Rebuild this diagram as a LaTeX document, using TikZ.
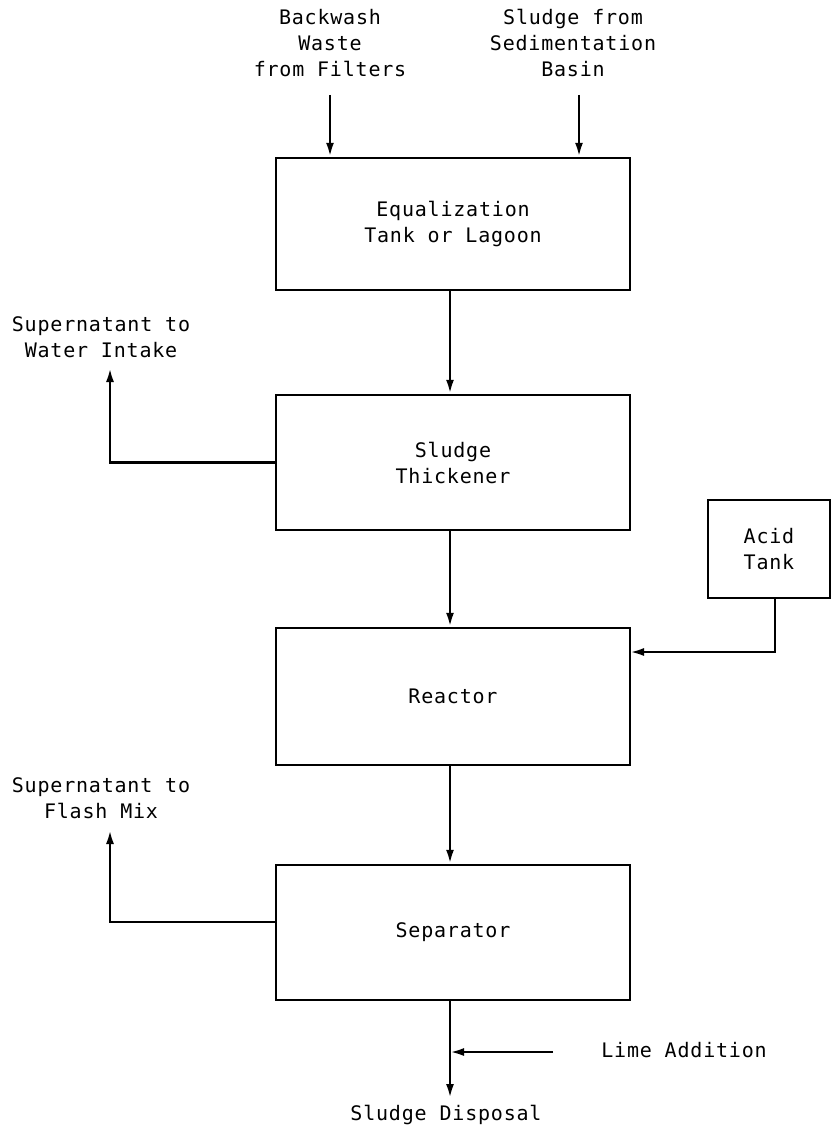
\documentclass[tikz,border=0pt]{standalone}
\usepackage{fontspec}
\usetikzlibrary{arrows.meta}
\newfontfamily\tw[LetterSpace=4]{DejaVu Sans Mono}
\begin{document}
\begin{tikzpicture}[x=1pt,y=-1pt,
  box/.style={draw,line width=2.5pt,minimum width=354pt,inner sep=0pt},
  lbl/.style={align=center,inner sep=0pt,font=\tw\fontsize{20}{26}\selectfont},
  flow/.style={line width=2.5pt,-{Latex[length=14pt,width=8pt]}}]
\useasboundingbox (0,0) rectangle (831,1129);
% boxes
\node[box,minimum height=132pt,lbl] (eq) at (453,224) {Equalization\\Tank or Lagoon};
\node[box,minimum height=135pt,lbl] (thk) at (453,462.5) {Sludge\\Thickener};
\node[box,minimum height=137pt,lbl] (reac) at (453,696.5) {Reactor};
\node[box,minimum height=135pt,lbl] (sep) at (453,932.5) {Separator};
\node[box,minimum width=122pt,minimum height=98pt,lbl] (acid) at (769,549) {Acid\\Tank};
% labels
\node[lbl] (bw) at (330,43) {Backwash\\Waste\\from Filters};
\node[lbl] (sd) at (573,43) {Sludge from\\Sedimentation\\Basin};
\node[lbl] (sup1) at (101,337) {Supernatant to\\Water Intake};
\node[lbl] (sup2) at (101,798) {Supernatant to\\Flash Mix};
\node[lbl] (lime) at (684,1050) {Lime Addition};
\node[lbl] (disp) at (446,1115) {Sludge Disposal};
% coordinates
\coordinate (main) at (450,0);
\coordinate (bwa) at (330,95);
\coordinate (sda) at (579,95);
\coordinate (t1) at (110,368);
\coordinate (c2) at (110,922);
\coordinate (t2) at (110,830);
\coordinate (ax) at (775,0);
\coordinate (aj) at (630,652);
\coordinate (lj) at (450,1052);
\coordinate (ls) at (553,1052);
\coordinate (dt) at (450,1098);
% connectors
\draw[flow] (bwa) -- (bwa |- eq.north);
\draw[flow] (sda) -- (sda |- eq.north);
\draw[flow] (eq.south -| main) -- (thk.north -| main);
\draw[flow] (thk.south -| main) -- (reac.north -| main);
\draw[flow] (reac.south -| main) -- (sep.north -| main);
\draw[flow] (thk.west) -| (t1);
\draw[flow] (sep.west |- c2) -- (c2) -- (t2);
\draw[flow] (acid.south -| ax) |- (aj);
\draw[flow] (sep.south -| main) -- (dt);
\draw[flow] (ls) -- (lj);
\end{tikzpicture}
\end{document}
